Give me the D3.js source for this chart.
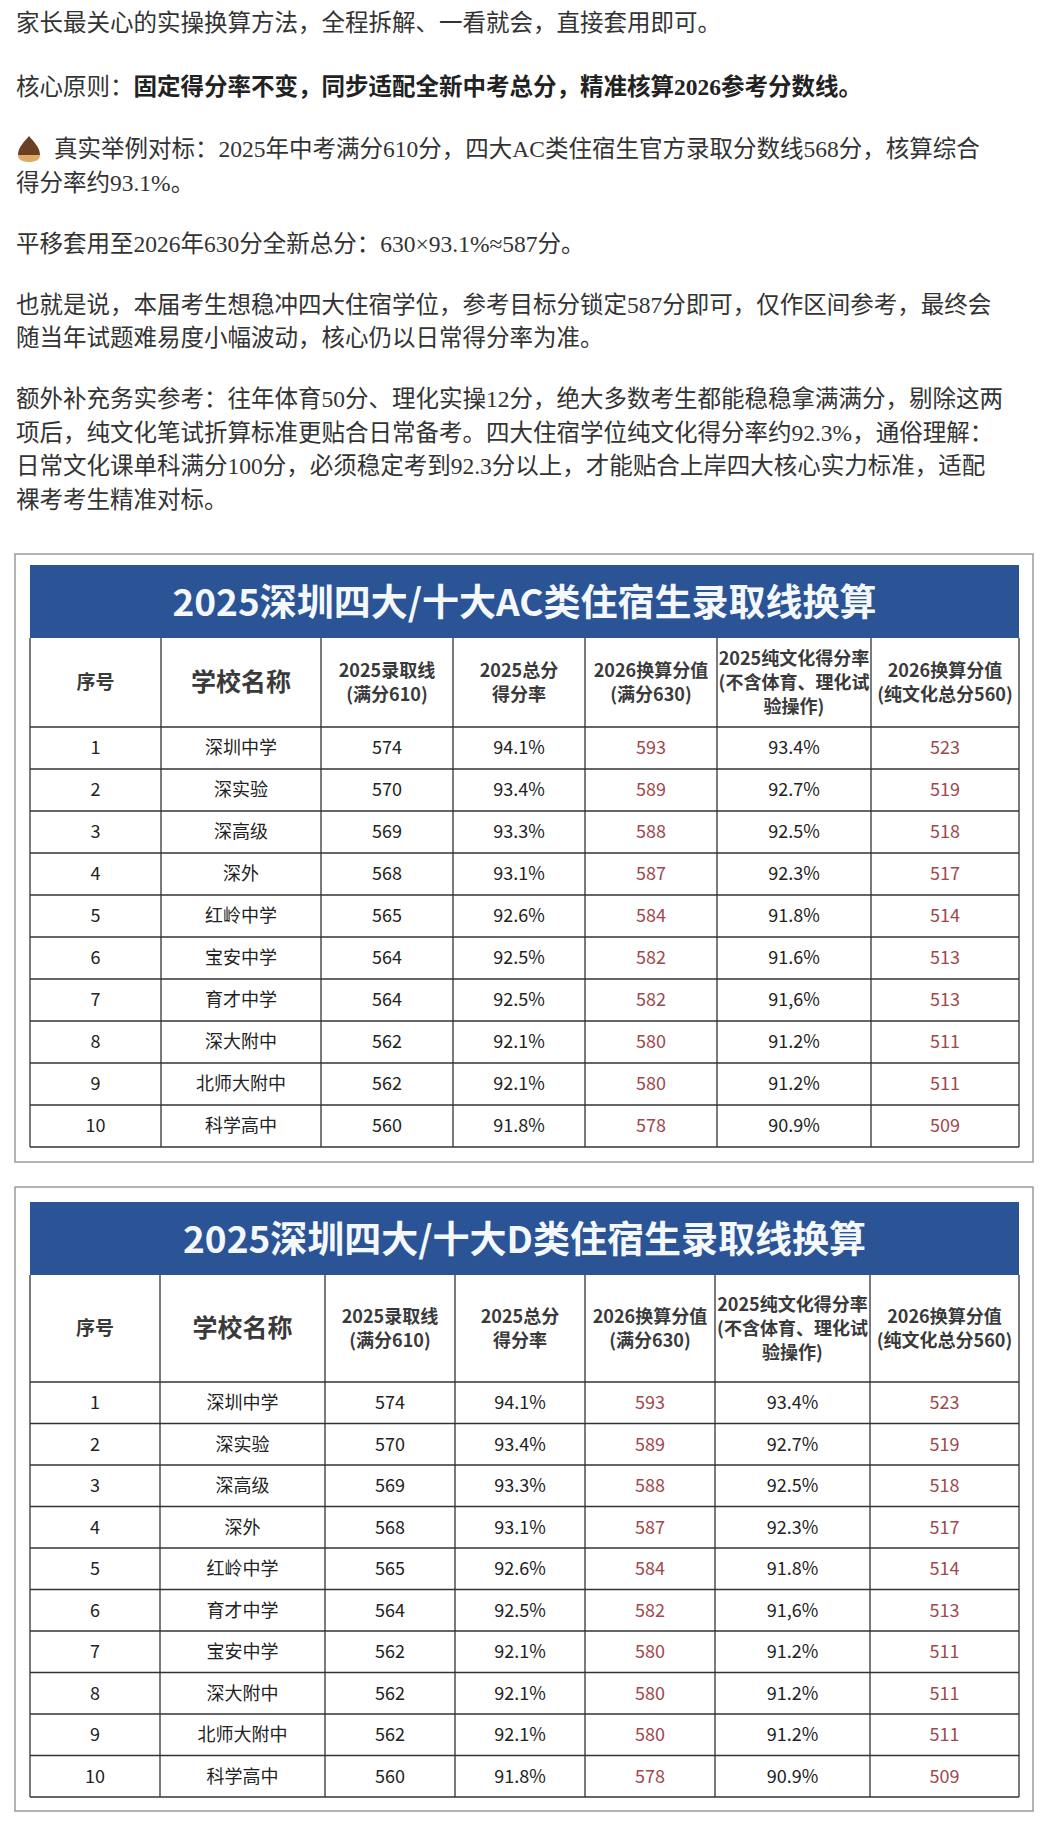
<!DOCTYPE html>
<html><head><meta charset="utf-8">
<script src="https://cdn.jsdelivr.net/npm/d3@7/dist/d3.min.js"></script>
<style>body{margin:0;background:#fff}svg{display:block}</style></head>
<body><script>
const paragraphs = [
  [{t:"家长最关心的实操换算方法，全程拆解、一看就会，直接套用即可。"}],
  [{t:"核心原则："},{t:"固定得分率不变，同步适配全新中考总分，精准核算2026参考分数线。",b:true}],
  [{t:"真实举例对标：2025年中考满分610分，四大AC类住宿生官方录取分数线568分，核算综合"}],
  [{t:"得分率约93.1%。"}],
  [{t:"平移套用至2026年630分全新总分：630×93.1%≈587分。"}],
  [{t:"也就是说，本届考生想稳冲四大住宿学位，参考目标分锁定587分即可，仅作区间参考，最终会"}],
  [{t:"随当年试题难易度小幅波动，核心仍以日常得分率为准。"}],
  [{t:"额外补充务实参考：往年体育50分、理化实操12分，绝大多数考生都能稳稳拿满满分，剔除这两"}],
  [{t:"项后，纯文化笔试折算标准更贴合日常备考。四大住宿学位纯文化得分率约92.3%，通俗理解："}],
  [{t:"日常文化课单科满分100分，必须稳定考到92.3分以上，才能贴合上岸四大核心实力标准，适配"}],
  [{t:"裸考考生精准对标。"}]
];
const paraY = [23,87,149,183,244,305,338,399,433,466,500];
const headers = [["序号"],["学校名称"],["2025录取线","(满分610)"],["2025总分","得分率"],["2026换算分值","(满分630)"],["2025纯文化得分率","(不含体育、理化试","验操作)"],["2026换算分值","(纯文化总分560)"]];
const titleAC = "2025深圳四大/十大AC类住宿生录取线换算";
const titleD = "2025深圳四大/十大D类住宿生录取线换算";
const schoolsAC = ["深圳中学","深实验","深高级","深外","红岭中学","宝安中学","育才中学","深大附中","北师大附中","科学高中"];
const line2025AC = [574,570,569,568,565,564,564,562,562,560];
const rate2025AC = ["94.1%","93.4%","93.3%","93.1%","92.6%","92.5%","92.5%","92.1%","92.1%","91.8%"];
const score2026AC = [593,589,588,587,584,582,582,580,580,578];
const pureRateAC = ["93.4%","92.7%","92.5%","92.3%","91.8%","91.6%","91,6%","91.2%","91.2%","90.9%"];
const pure2026AC = [523,519,518,517,514,513,513,511,511,509];
const schoolsD = ["深圳中学","深实验","深高级","深外","红岭中学","育才中学","宝安中学","深大附中","北师大附中","科学高中"];
const line2025D = [574,570,569,568,565,564,562,562,562,560];
const rate2025D = ["94.1%","93.4%","93.3%","93.1%","92.6%","92.5%","92.1%","92.1%","92.1%","91.8%"];
const score2026D = [593,589,588,587,584,582,580,580,580,578];
const pureRateD = ["93.4%","92.7%","92.5%","92.3%","91.8%","91,6%","91.2%","91.2%","91.2%","90.9%"];
const pure2026D = [523,519,518,517,514,513,511,511,511,509];

const W=1041,H=1824;
const svg=d3.select("body").append("svg").attr("width",W).attr("height",H);
const serif="'Liberation Serif','Noto Sans CJK SC',serif";
const sans="'Noto Sans CJK SC','Noto Sans',sans-serif";

paragraphs.forEach((p,i)=>{
  const t=svg.append("text").attr("x",i==2?54:16).attr("y",paraY[i]).attr("dy","0.35em")
    .attr("font-family",serif).attr("font-size",23.5).attr("fill","#333");
  p.forEach(s=>t.append("tspan").text(s.t).attr("font-weight",s.b?"bold":"normal").attr("fill",s.b?"#222":"#333"));
});
// chestnut icon
const ic=svg.append("g").attr("transform","translate(29,149)");
ic.append("path").attr("d","M0,-13 C4,-8 11,-2 11,6 L-11,6 C-11,-2 -4,-8 0,-13Z").attr("fill","#6b3f22");
ic.append("path").attr("d","M-11,6 L11,6 C11,11 6,13 0,13 C-6,13 -11,11 -11,6Z").attr("fill","#e0a965");

function drawTable(cfg){
  const {box,top,blueH,headH,rowH,cols,title,rows}=cfg;
  const g=svg.append("g");
  g.append("rect").attr("x",box[0]).attr("y",box[1]).attr("width",box[2]-box[0]).attr("height",box[3]-box[1])
    .attr("fill","#fff").attr("stroke","#9a9a9a").attr("stroke-width",1.5);
  const x0=cols[0], x1=cols[cols.length-1];
  g.append("rect").attr("x",x0).attr("y",top).attr("width",x1-x0).attr("height",blueH).attr("fill","#2b5497");
  g.append("text").attr("x",(x0+x1)/2).attr("y",top+blueH/2+2).attr("dy","0.35em").attr("text-anchor","middle")
    .attr("font-family",sans).attr("font-weight","bold").attr("font-size",37).attr("fill","#f4f8fb").text(title);
  const hy=top+blueH;
  const y=d3.scaleBand().domain(d3.range(rows.length)).range([hy+headH,hy+headH+rowH*rows.length]);
  const bottom=hy+headH+rowH*rows.length;
  cols.forEach(c=>g.append("line").attr("x1",c).attr("x2",c).attr("y1",hy).attr("y2",bottom).attr("stroke","#333").attr("stroke-width",1.3));
  [hy+headH].concat(rows.map((r,i)=>y(i)+rowH)).forEach(v=>g.append("line").attr("x1",x0).attr("x2",x1).attr("y1",v).attr("y2",v).attr("stroke","#333").attr("stroke-width",1.3));
  headers.forEach((h,j)=>{
    const cx=(cols[j]+cols[j+1])/2, fs=j==1?25:j==0?19:18, lh=24;
    const t=g.append("text").attr("text-anchor","middle").attr("font-family",sans).attr("font-weight","bold")
      .attr("font-size",fs).attr("fill","#3a3a3a");
    h.forEach((s,k)=>t.append("tspan").attr("x",cx).attr("y",hy+headH/2+(k-(h.length-1)/2)*lh).attr("dy","0.35em").text(s));
  });
  rows.forEach((r,i)=>{
    r.forEach((v,j)=>{
      g.append("text").attr("x",(cols[j]+cols[j+1])/2).attr("y",y(i)+rowH/2).attr("dy","0.35em").attr("text-anchor","middle")
        .attr("font-family",sans).attr("font-size",18).attr("fill",(j==4||j==6)?"#a0484c":"#222").text(v);
    });
  });
}
const mk=(s,a,b,c,d,e)=>s.map((n,i)=>[i+1,n,a[i],b[i],c[i],d[i],e[i]]);
drawTable({box:[15,554,1033,1162],top:565,blueH:73,headH:89,rowH:42,cols:[30,161,321,453,585,717,871,1019],
  title:titleAC,rows:mk(schoolsAC,line2025AC,rate2025AC,score2026AC,pureRateAC,pure2026AC)});
drawTable({box:[15,1187,1033,1811],top:1202,blueH:73,headH:107,rowH:41.5,cols:[30,160,325,455,585,715,870,1019],
  title:titleD,rows:mk(schoolsD,line2025D,rate2025D,score2026D,pureRateD,pure2026D)});
</script></body></html>
